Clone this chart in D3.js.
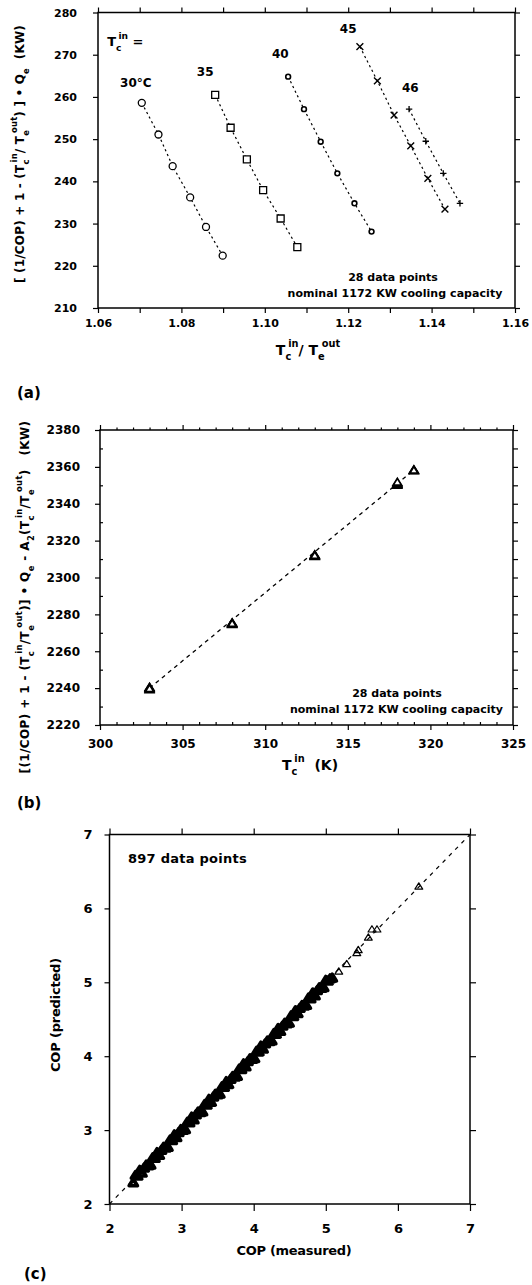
<!DOCTYPE html>
<html>
<head>
<meta charset="utf-8">
<script src="https://cdn.jsdelivr.net/npm/d3@7"></script>
<style>
  html, body { margin: 0; padding: 0; background: #fff; }
  svg { display: block; }
</style>
</head>
<body>
<script>
// ---------- (a) regression load versus temperature ratio, one series per inlet temperature ----------
const seriesNamesA = ["30°C", "35", "40", "45", "46"];
const ratio30 = [1.0705, 1.0745, 1.0779, 1.0821, 1.0859, 1.0899];
const load30  = [258.6, 251.1, 243.6, 236.2, 229.2, 222.4];
const ratio35 = [1.0881, 1.0918, 1.0957, 1.0996, 1.1038, 1.1078];
const load35  = [260.5, 252.7, 245.2, 237.9, 231.2, 224.4];
const ratio40 = [1.1056, 1.1094, 1.1134, 1.1174, 1.1215, 1.1256];
const load40  = [264.8, 257.1, 249.4, 241.9, 234.8, 228.1];
const ratio45 = [1.1228, 1.1270, 1.1310, 1.1350, 1.1391, 1.1432];
const load45  = [271.9, 263.8, 255.7, 248.4, 240.7, 233.4];
const ratio46 = [1.1346, 1.1386, 1.1428, 1.1468];
const load46  = [257.1, 249.5, 241.9, 234.8];

const ticksAX = [1.06, 1.07, 1.08, 1.09, 1.10, 1.11, 1.12, 1.13, 1.14, 1.15, 1.16];
const labelsAX = ["1.06", "", "1.08", "", "1.10", "", "1.12", "", "1.14", "", "1.16"];
const ticksAY = [210, 220, 230, 240, 250, 260, 270, 280];
const labelsAY = ["210", "220", "230", "240", "250", "260", "270", "280"];

// ---------- (b) regression load versus condenser inlet temperature ----------
const condTempK = [303, 303, 303, 303, 303, 303,
                   308, 308, 308, 308, 308, 308,
                   313, 313, 313, 313, 313, 313,
                   318, 318, 318, 318, 318, 318,
                   319, 319, 319, 319];
const loadB = [2239.2, 2239.6, 2240.0, 2240.3, 2240.6, 2239.8,
               2274.6, 2275.0, 2275.3, 2274.8, 2275.6, 2275.1,
               2311.5, 2311.9, 2312.2, 2312.5, 2311.7, 2312.0,
               2350.2, 2350.6, 2351.0, 2351.4, 2350.8, 2351.8,
               2358.0, 2358.3, 2358.6, 2358.2];
const fitTempK = [303, 319];
const fitLoadB = [2240.0, 2358.3];

const ticksBXMajor = [300, 305, 310, 315, 320, 325];
const labelsBX = ["300", "305", "310", "315", "320", "325"];
const ticksBYMajor = [2220, 2240, 2260, 2280, 2300, 2320, 2340, 2360, 2380];
const labelsBY = ["2220", "2240", "2260", "2280", "2300", "2320", "2340", "2360", "2380"];
const ticksBYMinor = [2230, 2250, 2270, 2290, 2310, 2330, 2350, 2370];

// ---------- (c) predicted versus measured COP ----------
const copMeasured = [
  2.33, 2.36, 2.39, 2.42, 2.45, 2.48, 2.51, 2.54, 2.57, 2.60, 2.63, 2.66, 2.69, 2.72, 2.75, 2.78,
  2.81, 2.84, 2.87, 2.90, 2.93, 2.96, 2.99, 3.02, 3.05, 3.08, 3.11, 3.14, 3.17, 3.20, 3.23, 3.26,
  3.29, 3.32, 3.35, 3.38, 3.41, 3.44, 3.47, 3.50, 3.53, 3.56, 3.59, 3.62, 3.65, 3.68, 3.71, 3.74,
  3.77, 3.80, 3.83, 3.86, 3.89, 3.92, 3.95, 3.98, 4.01, 4.04, 4.07, 4.10, 4.13, 4.16, 4.19, 4.22,
  4.25, 4.28, 4.31, 4.34, 4.37, 4.40, 4.43, 4.46, 4.49, 4.52, 4.55, 4.58, 4.61, 4.64, 4.67, 4.70,
  4.73, 4.76, 4.79, 4.82, 4.85, 4.88, 4.91, 4.94, 4.97, 5.00, 5.03, 5.06, 5.09,
  5.18, 5.29, 5.43, 5.45, 5.59, 5.64, 5.71, 6.29
];
const copPredicted = [
  2.29, 2.39, 2.38, 2.46, 2.42, 2.49, 2.53, 2.52, 2.53, 2.63, 2.62, 2.70, 2.66, 2.73, 2.77, 2.76,
  2.77, 2.87, 2.86, 2.94, 2.90, 2.97, 3.01, 3.00, 3.01, 3.11, 3.10, 3.18, 3.14, 3.21, 3.25, 3.24,
  3.25, 3.35, 3.34, 3.42, 3.38, 3.45, 3.49, 3.48, 3.49, 3.59, 3.58, 3.66, 3.62, 3.69, 3.73, 3.72,
  3.73, 3.83, 3.82, 3.90, 3.86, 3.93, 3.97, 3.96, 3.97, 4.07, 4.06, 4.14, 4.10, 4.17, 4.21, 4.20,
  4.21, 4.31, 4.30, 4.38, 4.34, 4.41, 4.45, 4.44, 4.45, 4.55, 4.54, 4.62, 4.58, 4.65, 4.69, 4.68,
  4.69, 4.79, 4.78, 4.86, 4.82, 4.89, 4.93, 4.92, 4.93, 5.03, 5.02, 5.05, 5.06,
  5.15, 5.25, 5.40, 5.44, 5.61, 5.72, 5.72, 6.30
];
const identityLine = [2, 7];
const ticksC = [2, 3, 4, 5, 6, 7];
const labelsC = ["2", "3", "4", "5", "6", "7"];

// ---------- drawing ----------
const W = 532, H = 1285;
const FONT = "'DejaVu Sans', 'Liberation Sans', sans-serif";
const svg = d3.select("body").append("svg").attr("width", W).attr("height", H)
  .attr("font-family", FONT).attr("font-weight", "bold");
svg.append("rect").attr("width", W).attr("height", H).attr("fill", "#fff");

const xA = d3.scaleLinear().domain([1.06, 1.16]).range([98, 515]);
const yA = d3.scaleLinear().domain([210, 280]).range([308, 12.5]);
const xB = d3.scaleLinear().domain([300, 325]).range([100, 513]);
const yB = d3.scaleLinear().domain([2220, 2380]).range([725, 430]);
const xC = d3.scaleLinear().domain([2, 7]).range([109.5, 470]);
const yC = d3.scaleLinear().domain([2, 7]).range([1204, 834.5]);

function drawAxis(o) {
  const make = { left: d3.axisLeft, right: d3.axisRight, top: d3.axisTop, bottom: d3.axisBottom }[o.orient];
  const gen = make(o.scale).tickValues(o.values).tickSizeInner(o.size).tickSizeOuter(0)
    .tickPadding(o.padding || 3).tickFormat((d, i) => (o.labels ? o.labels[i] : ""));
  const vertical = o.orient === "left" || o.orient === "right";
  const g = svg.append("g")
    .attr("transform", vertical ? `translate(${o.at},0)` : `translate(0,${o.at})`)
    .call(gen);
  g.select(".domain").remove();
  g.attr("font-family", FONT).attr("font-size", o.fontSize || 11).attr("font-weight", "bold");
  g.selectAll(".tick line").attr("stroke", "#000").attr("stroke-width", 1.2);
  if (o.labels) g.selectAll(".tick text").attr("fill", "#000");
  else g.selectAll(".tick text").remove();
}

function frame(x, y) {
  const [x0, x1] = x.range(), [y0, y1] = y.range();
  svg.append("rect")
    .attr("x", Math.min(x0, x1)).attr("y", Math.min(y0, y1))
    .attr("width", Math.abs(x1 - x0)).attr("height", Math.abs(y1 - y0))
    .attr("fill", "none").attr("stroke", "#000").attr("stroke-width", 1.5);
}

// rich text with sub / superscripts
function richText(sel, parts, size) {
  let shift = 0;
  sel.style("white-space", "pre");
  parts.forEach(p => {
    const target = p.s === "sup" ? -0.55 * size : p.s === "sub" ? 0.38 * size : 0;
    const ts = sel.append("tspan")
      .attr("font-size", p.s ? size * 0.7 : size)
      .attr("dy", (target - shift).toFixed(2))
      .text(p.t);
    if (p.dx) ts.attr("dx", p.dx);
    shift = target;
  });
}

function fitWidth(sel, target) {
  const node = sel.node();
  const n = node.getNumberOfChars();
  for (let k = 0; k < 2; k++) {
    const w = node.getBBox().width;
    const cur = parseFloat(sel.attr("letter-spacing") || 0);
    sel.attr("letter-spacing", (cur + (target - w) / n).toFixed(3));
  }
}

function marker(type, h) {
  switch (type) {
    case "circle": return `M${h},0A${h},${h} 0 1,1 ${-h},0A${h},${h} 0 1,1 ${h},0Z`;
    case "square": return `M${-h},${-h}H${h}V${h}H${-h}Z`;
    case "times":  return `M${-h},${-h}L${h},${h}M${-h},${h}L${h},${-h}`;
    case "plus":   return `M${-h},0H${h}M0,${-h}V${h}`;
    case "triangle": return `M0,${-h}L${h * 1.15},${h * 0.85}L${-h * 1.15},${h * 0.85}Z`;
  }
}

// ===== Panel (a) =====
drawAxis({ orient: "left", scale: yA, values: ticksAY, labels: labelsAY, size: 5, padding: 16, at: 98, fontSize: 11 });
drawAxis({ orient: "right", scale: yA, values: ticksAY, size: 5, at: 515 });
drawAxis({ orient: "bottom", scale: xA, values: ticksAX, labels: labelsAX, size: 5, padding: 6, at: 308, fontSize: 11 });
drawAxis({ orient: "top", scale: xA, values: ticksAX, size: 5, at: 12.5 });
frame(xA, yA);

const seriesA = [
  { x: ratio30, y: load30, mark: "circle", h: 3.5, sw: 1.3 },
  { x: ratio35, y: load35, mark: "square", h: 3.5, sw: 1.3 },
  { x: ratio40, y: load40, mark: "circle", h: 2.4, sw: 1.6 },
  { x: ratio45, y: load45, mark: "times", h: 3.4, sw: 1.4 },
  { x: ratio46, y: load46, mark: "plus", h: 3.2, sw: 1.3 }
];
const lineA = d3.line().x(d => xA(d[0])).y(d => yA(d[1]));
seriesA.forEach(s => {
  const pts = s.x.map((v, i) => [v, s.y[i]]);
  svg.append("path").attr("d", lineA(pts)).attr("fill", "none")
    .attr("stroke", "#000").attr("stroke-width", 1.2).attr("stroke-dasharray", "2.2,3");
  svg.append("g").selectAll("path").data(pts).join("path")
    .attr("transform", d => `translate(${xA(d[0])},${yA(d[1])})`)
    .attr("d", marker(s.mark, s.h))
    .attr("fill", s.mark === "circle" || s.mark === "square" ? "#fff" : "none")
    .attr("stroke", "#000").attr("stroke-width", s.sw);
});

// series labels, anchored in data coordinates
const labelAnchorsA = [[1.0653, 262.3], [1.0837, 265.0], [1.1017, 269.2], [1.1180, 275.1], [1.1329, 261.2]];
seriesNamesA.forEach((t, i) => {
  svg.append("text").attr("x", xA(labelAnchorsA[i][0])).attr("y", yA(labelAnchorsA[i][1]))
    .attr("font-size", 12).text(t);
});
const tcLabel = svg.append("text").attr("x", xA(1.0622)).attr("y", yA(272.1));
richText(tcLabel, [{ t: "T" }, { t: "c", s: "sub" }, { t: "in", s: "sup", dx: -3 }, { t: " =" }], 13);

const noteA1 = svg.append("text").attr("x", 393).attr("y", 281).attr("text-anchor", "middle")
  .attr("font-size", 11).style("white-space", "pre").text("28 data points");
fitWidth(noteA1, 90);
const noteA2 = svg.append("text").attr("x", 395).attr("y", 297).attr("text-anchor", "middle")
  .attr("font-size", 11).style("white-space", "pre").text("nominal 1172 KW cooling capacity");
fitWidth(noteA2, 215);

const yLabA = svg.append("text").attr("text-anchor", "middle")
  .attr("transform", "translate(24,154) rotate(-90)");
richText(yLabA, [
  { t: "[ (1/COP) + 1 - (T" }, { t: "c", s: "sub" }, { t: "in", s: "sup", dx: -3 },
  { t: "/ T" }, { t: "e", s: "sub" }, { t: "out", s: "sup", dx: -3 },
  { t: ") ] • Q" }, { t: "e", s: "sub" }, { t: "  (KW)" }
], 12);
fitWidth(yLabA, 258);

const xLabA = svg.append("text").attr("x", 308).attr("y", 355).attr("text-anchor", "middle");
richText(xLabA, [
  { t: "T" }, { t: "c", s: "sub" }, { t: "in", s: "sup", dx: -3 }, { t: "/ T" },
  { t: "e", s: "sub" }, { t: "out", s: "sup", dx: -3 }
], 14);

svg.append("text").attr("x", 17).attr("y", 398).attr("font-size", 15).text("(a)");

// ===== Panel (b) =====
const ticksBXMinor = d3.range(301, 325).filter(v => v % 5 !== 0);
drawAxis({ orient: "left", scale: yB, values: ticksBYMajor, labels: labelsBY, size: 5, padding: 15, at: 100, fontSize: 12 });
drawAxis({ orient: "left", scale: yB, values: ticksBYMinor, size: -3, at: 100 });
drawAxis({ orient: "right", scale: yB, values: ticksBYMajor.concat(ticksBYMinor), size: 5, at: 513 });
drawAxis({ orient: "bottom", scale: xB, values: ticksBXMajor, labels: labelsBX, size: 5, padding: 9.5, at: 725, fontSize: 12 });
drawAxis({ orient: "bottom", scale: xB, values: ticksBXMinor, size: -3, at: 725 });
drawAxis({ orient: "top", scale: xB, values: ticksBXMajor, size: 5, at: 430 });
drawAxis({ orient: "top", scale: xB, values: ticksBXMinor, size: 2.5, at: 430 });
frame(xB, yB);

svg.append("path")
  .attr("d", d3.line().x(d => xB(d[0])).y(d => yB(d[1]))(fitTempK.map((t, i) => [t, fitLoadB[i]])))
  .attr("fill", "none").attr("stroke", "#000").attr("stroke-width", 1.3).attr("stroke-dasharray", "4,4");
svg.append("g").selectAll("path").data(condTempK.map((t, i) => [t, loadB[i]])).join("path")
  .attr("transform", d => `translate(${xB(d[0])},${yB(d[1])})`)
  .attr("d", marker("triangle", 3.6))
  .attr("fill", "#fff").attr("stroke", "#000").attr("stroke-width", 1.8);

const noteB1 = svg.append("text").attr("x", 397).attr("y", 697).attr("text-anchor", "middle")
  .attr("font-size", 11).style("white-space", "pre").text("28 data points");
fitWidth(noteB1, 90);
const noteB2 = svg.append("text").attr("x", 396.5).attr("y", 713).attr("text-anchor", "middle")
  .attr("font-size", 11).style("white-space", "pre").text("nominal 1172 KW cooling capacity");
fitWidth(noteB2, 213);

const yLabB = svg.append("text").attr("text-anchor", "middle")
  .attr("transform", "translate(29,597) rotate(-90)");
richText(yLabB, [
  { t: "[(1/COP) + 1 - (T" }, { t: "c", s: "sub" }, { t: "in", s: "sup", dx: -3 },
  { t: "/T" }, { t: "e", s: "sub" }, { t: "out", s: "sup", dx: -3 },
  { t: ")] • Q" }, { t: "e", s: "sub" }, { t: " - A" }, { t: "2", s: "sub" },
  { t: "(T" }, { t: "c", s: "sub" }, { t: "in", s: "sup", dx: -3 },
  { t: "/T" }, { t: "e", s: "sub" }, { t: "out", s: "sup", dx: -3 },
  { t: ")   (KW)" }
], 12);
fitWidth(yLabB, 353);

const xLabB = svg.append("text").attr("x", 310).attr("y", 770).attr("text-anchor", "middle");
richText(xLabB, [{ t: "T" }, { t: "c", s: "sub" }, { t: "in", s: "sup", dx: -3 }, { t: "  (K)" }], 14);

svg.append("text").attr("x", 17).attr("y", 808).attr("font-size", 15).text("(b)");

// ===== Panel (c) =====
drawAxis({ orient: "left", scale: yC, values: ticksC, labels: labelsC, size: 5, padding: 12, at: 109.5, fontSize: 13 });
drawAxis({ orient: "right", scale: yC, values: ticksC, size: 6, at: 470 });
drawAxis({ orient: "bottom", scale: xC, values: ticksC, labels: labelsC, size: 7, padding: 13, at: 1204, fontSize: 13 });
drawAxis({ orient: "top", scale: xC, values: ticksC, size: 6, at: 834.5 });
frame(xC, yC);

svg.append("path")
  .attr("d", d3.line().x(d => xC(d)).y(d => yC(d))(identityLine))
  .attr("fill", "none").attr("stroke", "#000").attr("stroke-width", 1.2).attr("stroke-dasharray", "4,5");
// dense run of overlapping points reads as a solid band; the sparse high-COP points stay open
svg.append("g").selectAll("path").data(copMeasured.map((m, i) => [m, copPredicted[i]])).join("path")
  .attr("transform", d => `translate(${xC(d[0])},${yC(d[1])})`)
  .attr("d", d => marker("triangle", d[0] < 5.12 ? 3.6 : 3.4))
  .attr("fill", "none").attr("stroke", "#000")
  .attr("stroke-linejoin", "round")
  .attr("stroke-width", d => (d[0] < 5.12 ? 3.6 : 1.2));

const noteC = svg.append("text").attr("x", 128).attr("y", 863).attr("font-size", 13)
  .style("white-space", "pre").text("897 data points");
fitWidth(noteC, 119);

const yLabC = svg.append("text").attr("text-anchor", "middle")
  .attr("transform", "translate(60,1015) rotate(-90)").attr("font-size", 13)
  .style("white-space", "pre").text("COP (predicted)");
fitWidth(yLabC, 114);
const xLabC = svg.append("text").attr("x", 294).attr("y", 1255).attr("text-anchor", "middle")
  .attr("font-size", 13).style("white-space", "pre").text("COP (measured)");
fitWidth(xLabC, 115);

svg.append("text").attr("x", 24).attr("y", 1279).attr("font-size", 15).text("(c)");
</script>
</body>
</html>
